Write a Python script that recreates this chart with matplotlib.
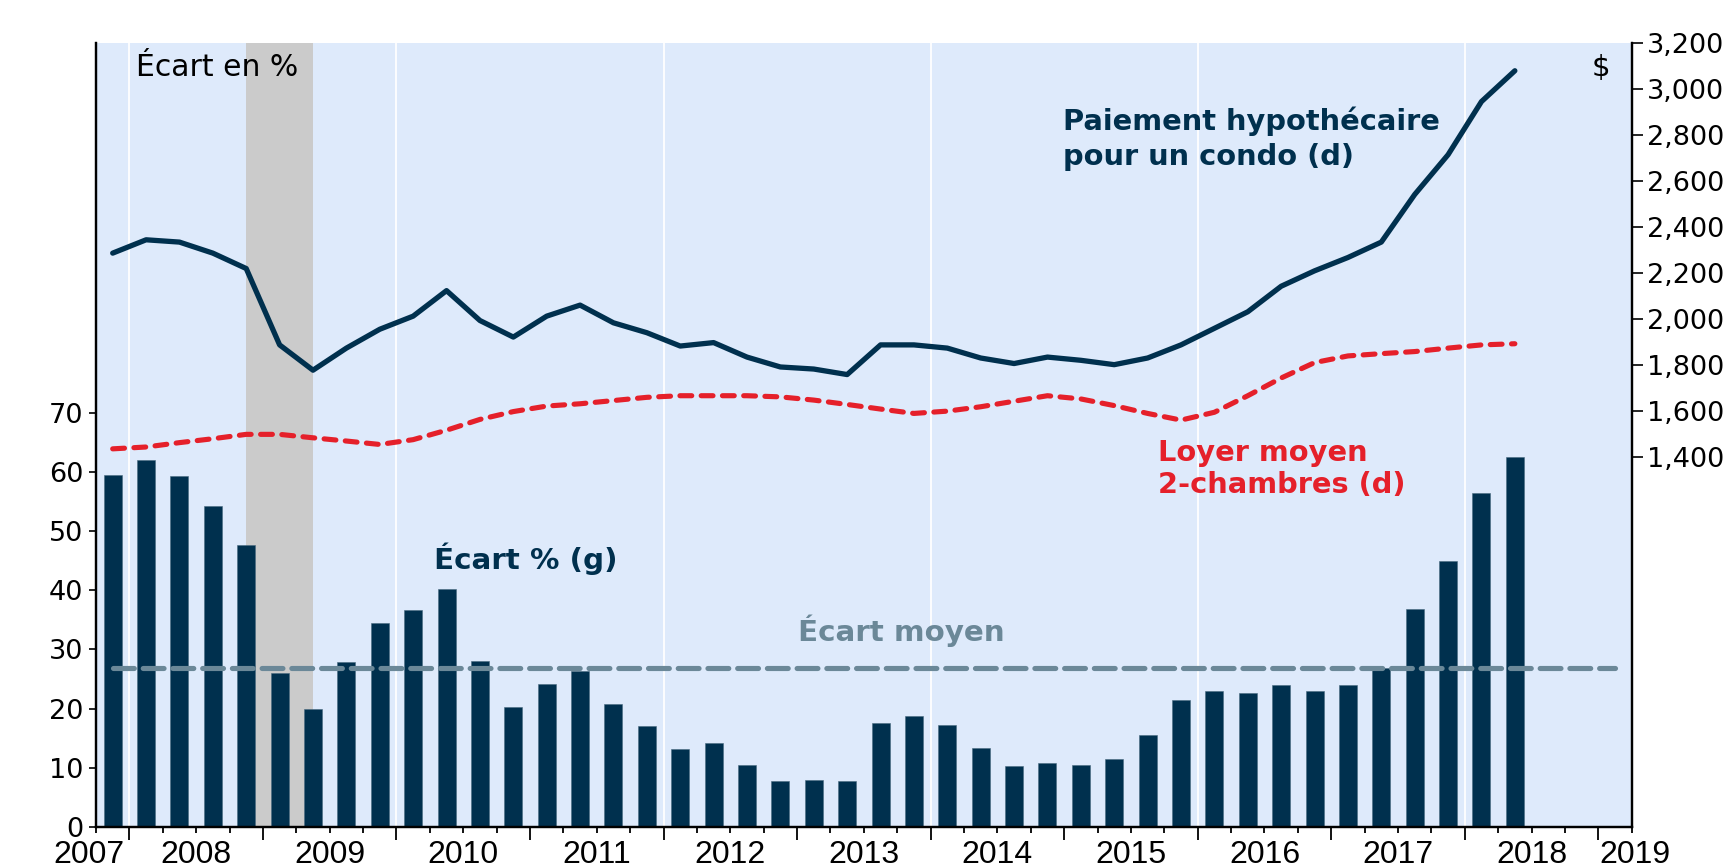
import numpy as np
import matplotlib.pyplot as plt
from matplotlib.ticker import FuncFormatter
import matplotlib.transforms as mtransforms

plt.rcParams['font.family'] = ['DejaVu Sans']
plt.rcParams['lines.scale_dashes'] = False

# ---- données (trimestrielles, T4 2007 -> T2 2018) ----
ecart_pct = [59.6, 62.0, 59.4, 54.2, 47.6, 26.0, 19.9, 27.9, 34.4, 36.6,
             40.3, 28.1, 20.3, 24.2, 26.3, 20.7, 17.1, 13.2, 14.2, 10.5,
             7.7, 7.9, 7.7, 17.6, 18.7, 17.2, 13.3, 10.3, 10.7, 10.5,
             11.4, 15.5, 21.5, 23.0, 22.6, 23.9, 23.0, 23.9, 26.9, 36.8,
             45.0, 56.4, 62.6]
paiement_condo = [2285, 2343, 2333, 2285, 2218, 1886, 1776, 1872, 1954, 2011,
                  2122, 1992, 1920, 2011, 2059, 1982, 1939, 1881, 1896, 1833,
                  1790, 1781, 1757, 1886, 1886, 1872, 1829, 1805, 1833, 1819,
                  1800, 1829, 1886, 1958, 2030, 2141, 2208, 2266, 2333, 2540,
                  2713, 2944, 3078]
loyer_2ch = [1434, 1442, 1461, 1478, 1497, 1497, 1482, 1468, 1453, 1474,
             1515, 1562, 1596, 1620, 1630, 1644, 1658, 1665, 1665, 1665,
             1660, 1646, 1627, 1607, 1588, 1598, 1617, 1641, 1665, 1651,
             1622, 1588, 1559, 1593, 1665, 1742, 1809, 1838, 1848, 1857,
             1872, 1886, 1891]
ecart_moyen = 26.8
n_trim_moyen = 46          # la ligne moyenne va jusqu'en 2019

annees = ['2007', '2008', '2009', '2010', '2011', '2012', '2013',
          '2014', '2015', '2016', '2017', '2018', '2019']
pos_annees = [-0.2, 3, 7, 11, 15, 19, 23, 27, 31, 35, 39, 43, 46.1]
recession = (4.5, 6.5)
grille_x = [1, 9, 17, 25, 33, 41]
yticks_g = [0, 10, 20, 30, 40, 50, 60, 70]
yticks_d = [1400, 1600, 1800, 2000, 2200, 2400, 2600, 2800, 3000, 3200]

# ---- couleurs ----
navy = '#00304E'
rouge = '#E5202A'
gris_moy = '#6B8898'
fond = '#DEEAFB'

W, H = 1733, 867
fig = plt.figure(figsize=(W / 100, H / 100), dpi=100)
ax = fig.add_axes([96 / W, 1 - 826.7 / H, (1631.7 - 96) / W, (826.7 - 42.7) / H])
ax.set_facecolor(fond)

x = np.arange(len(ecart_pct)) + 0.5

ax.axvspan(*recession, color='#CBCBCB', lw=0, zorder=1)
for g in grille_x:
    ax.axvline(g, color='white', lw=1.3, zorder=1.5)

ax.bar(x, ecart_pct, width=0.54, color=navy, edgecolor='#4a6a80', lw=0.4, zorder=2)
ax.hlines(ecart_moyen, 0.5, n_trim_moyen - 0.5, color=gris_moy, lw=3.7,
          linestyles=(0, (15, 6.4)), capstyle='round', zorder=3)

ax.set_xlim(0, 46)
ax.set_ylim(0, 132.7)
ax.set_yticks(yticks_g)
ax.set_xticks(np.arange(1, 46, 4))
ax.set_xticks(np.arange(0, 47), minor=True)
ax.set_xticklabels([])
ax.tick_params(axis='x', which='major', length=9, width=1.3, direction='out')
ax.tick_params(axis='x', which='minor', length=4.5, width=1.3, direction='out')
ax.tick_params(axis='y', length=5, width=1.2, labelsize=19.5, pad=4)

trans = mtransforms.blended_transform_factory(ax.transData, ax.transAxes)
for lab, px in zip(annees, pos_annees):
    ax.text(px, -0.036, lab, transform=trans, ha='center', va='center',
            fontsize=23, family=['Liberation Sans Narrow', 'Liberation Sans'])

ax2 = ax.twinx()
ax2.plot(x, loyer_2ch, color=rouge, lw=3.7, dashes=(8.5, 6.8),
         dash_capstyle='round', zorder=4)
ax2.plot(x, paiement_condo, color=navy, lw=3.8, solid_joinstyle='round',
         solid_capstyle='round', zorder=5)
ax2.set_ylim(-209, 3200)
ax2.set_yticks(yticks_d)
ax2.yaxis.set_major_formatter(FuncFormatter(lambda v, p: f'{int(v):,}'))
ax2.tick_params(axis='y', length=8, width=1.2, labelsize=19.5, pad=3)

for a in (ax, ax2):
    a.spines['top'].set_visible(False)
    for s in ('left', 'right', 'bottom'):
        a.spines[s].set_linewidth(1.6)
        a.spines[s].set_color('black')

def ftxt(px, py, s, **kw):
    fig.text(px / W, 1 - py / H, s, **kw)

ftxt(136, 68, 'Écart en %', fontsize=21.5, ha='left', va='center')
ftxt(1601, 68, '$', fontsize=21, ha='center', va='center')
ftxt(1063, 138.5, 'Paiement hypothécaire\npour un condo (d)', fontsize=20.8,
     fontweight='bold', color=navy, ha='left', va='center', linespacing=1.3)
ftxt(1158, 469, 'Loyer moyen\n2-chambres (d)', fontsize=20.8,
     fontweight='bold', color=rouge, ha='left', va='center', linespacing=1.2)
ftxt(434, 559, 'Écart % (g)', fontsize=21.2, fontweight='bold', color=navy,
     ha='left', va='center')
ftxt(798, 631, 'Écart moyen', fontsize=21.2, fontweight='bold', color=gris_moy,
     ha='left', va='center')

fig.savefig('out.png', dpi=100)
